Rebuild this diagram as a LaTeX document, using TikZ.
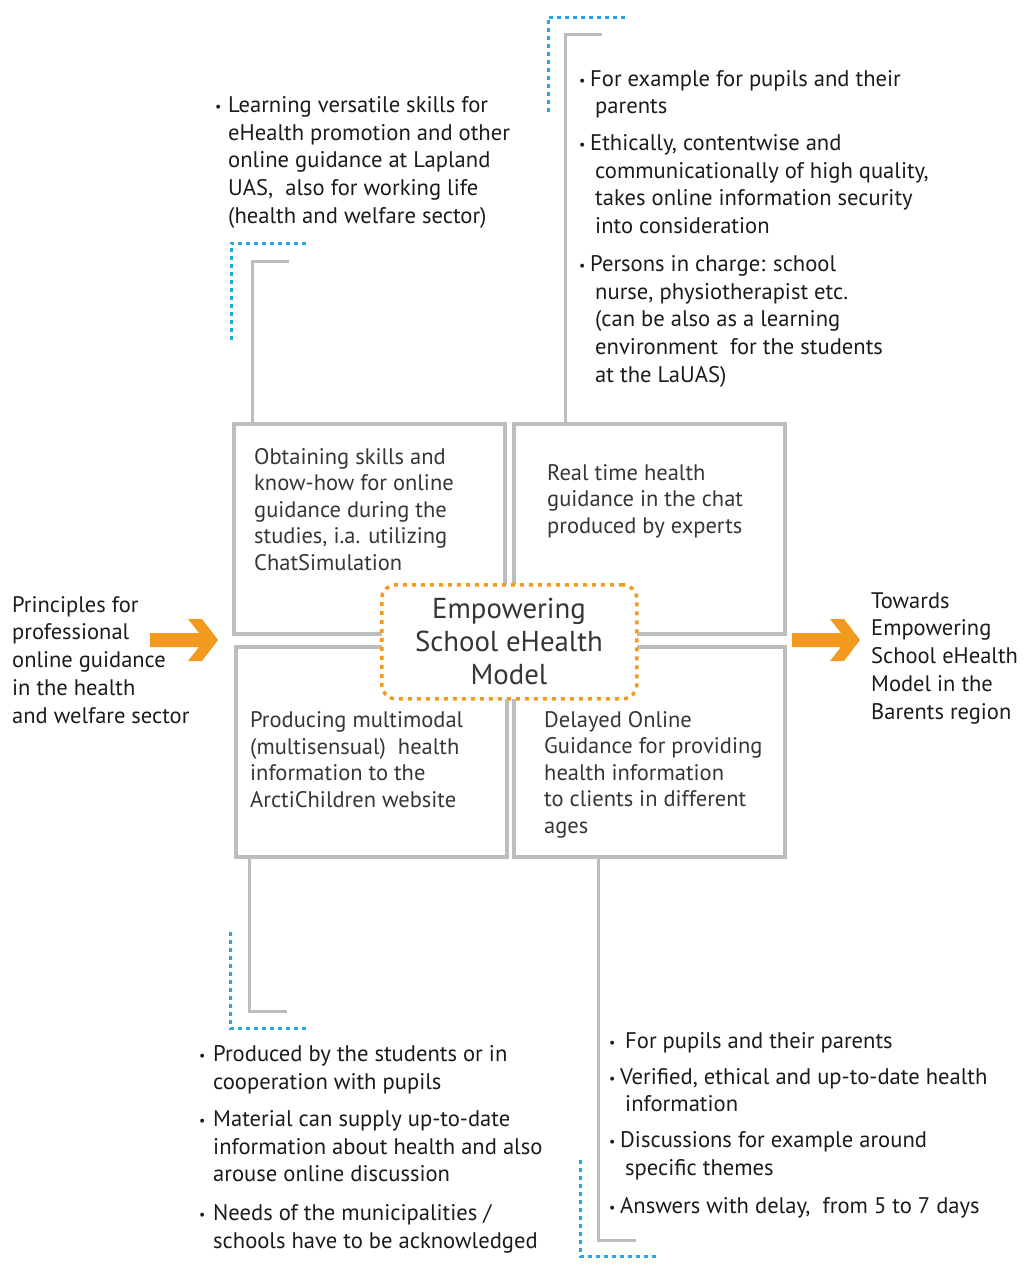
\documentclass[tikz,border=0pt]{standalone}
\usepackage{fontspec}
\setmainfont{PT Sans}
\definecolor{boxgray}{HTML}{BDBDBD}
\definecolor{dotblue}{HTML}{29A8E0}
\definecolor{orng}{HTML}{F39A1E}
\definecolor{txtc}{HTML}{1E1A1B}
\definecolor{boxtxtc}{HTML}{363636}
\newcommand{\sbul}{{\fontsize{14}{14}\selectfont\raisebox{1pt}{•}}}
\newcommand{\bulw}[1]{\makebox[#1][l]{\sbul}}
\begin{document}
\begin{tikzpicture}[x=1pt,y=-1pt,
  qbox/.style={draw=boxgray, line width=3.5pt, minimum width=271pt, minimum height=210pt, anchor=north west, inner sep=0pt},
  conn/.style={draw=boxgray, line width=3pt},
  bluedot/.style={draw=dotblue, line width=3pt, dash pattern=on 4pt off 4pt},
  bultxt/.style={font=\fontsize{22.6}{27.6}\selectfont, text=txtc, align=left, inner sep=0pt, anchor=base west},
  boxtxt/.style={font=\fontsize{22.5}{26.4}\selectfont, text=boxtxtc, align=left, inner sep=0pt, anchor=base west},
  sidetxt/.style={font=\fontsize{22.5}{27.7}\selectfont, text=txtc, align=left, inner sep=0pt, anchor=base west},
  center/.style={draw=orng, line width=3.5pt, dash pattern=on 4pt off 5pt, rounded corners=14pt, fill=white,
     minimum width=255pt, minimum height=114pt, anchor=north west, inner sep=0pt},
  arrowshape/.style={fill=orng}
]
\useasboundingbox (0,0) rectangle (1025,1266);

% quadrant boxes
\node[qbox] (tl) at (232,422) {};
\node[qbox] (tr) at (512,422) {};
\node[qbox] (bl) at (234,645) {};
\node[qbox] (br) at (512,645) {};

% centre
\node[center] (ctr) at (380,583) {};
\node[font=\fontsize{28.8}{33}\selectfont, text=boxtxtc, align=center, inner sep=0pt, anchor=base] (ctrt) at (509,684) {Empowering\\School eHealth\\Model};

% box texts (anchored at the baseline of the last line)
\node[boxtxt] (tlt) at (254,570) {Obtaining skills and\\know-how for online\\guidance during the\\studies, i.a. utilizing\\ChatSimulation};
\node[boxtxt] (trt) at (547,533) {Real time health\\guidance in the chat\\produced by experts};
\node[boxtxt] (blt) at (250,807) {Producing multimodal\\(multisensual)\ \ health\\information to the\\ArctiChildren website};
\node[boxtxt] (brt) at (544,833) {Delayed Online\\Guidance for providing\\health information\\to clients in different\\ages};

% side texts
\node[sidetxt] (left) at (12,723) {Principles for\\professional\\online guidance\\in the health\\and welfare sector};
\node[sidetxt] (right) at (871,719) {Towards\\Empowering\\School eHealth\\Model in the\\Barents region};

% orange arrows
\coordinate (la) at (150,640);
\coordinate (ra) at (792,640);
\foreach \c in {la,ra}{
\fill[arrowshape, shift={(\c)}] (0,-7) -- (49,-7) -- (38,-21) -- (52,-21) -- (68,0) -- (52,21) -- (38,21) -- (49,7) -- (0,7) -- cycle;
}

% bullet texts
\node[bultxt] (tlb) at (215,223) {\bulw{13pt}Learning versatile skills for\\
\hspace*{13pt}eHealth promotion and other\\
\hspace*{13pt}online guidance at Lapland\\
\hspace*{13pt}UAS,\ \ also for working life\\
\hspace*{13pt}(health and welfare sector)};

\node[bultxt] (trb) at (579,382) {\bulw{11pt}For example for pupils and their\\
\hspace*{16pt}parents\\[9.5pt]
\bulw{11pt}Ethically, contentwise and\\
\hspace*{16pt}communicationally of high quality,\\
\hspace*{16pt}takes online information security\\
\hspace*{16pt}into consideration\\[10.5pt]
\bulw{11pt}Persons in charge: school\\
\hspace*{16pt}nurse, physiotherapist etc.\\
\hspace*{16pt}(can be also as a learning\\
\hspace*{16pt}environment\ \ for the students\\
\hspace*{16pt}at the LaUAS)};

\node[bultxt] (blb) at (199,1248) {\bulw{14pt}Produced by the students or in\\
\hspace*{14pt}cooperation with pupils\\[9.5pt]
\bulw{14pt}Material can supply up-to-date\\
\hspace*{14pt}information about health and also\\
\hspace*{14pt}arouse online discussion\\[11pt]
\bulw{14pt}Needs of the municipalities /\\
\hspace*{14pt}schools have to be acknowledged};

\node[bultxt] (brb) at (609,1213) {\bulw{16pt}For pupils and their parents\\[8.5pt]
\bulw{11pt}Verified, ethical and up-to-date health\\
\hspace*{16pt}information\\[8.5pt]
\bulw{11pt}Discussions for example around\\
\hspace*{16pt}specific themes\\[10pt]
\bulw{11pt}Answers with delay,\ \ from 5 to 7 days};

% connectors from boxes to bullet lists
\coordinate (c1) at (252,261);
\coordinate (c2) at (565,34);
\coordinate (c3) at (249,1011);
\coordinate (c4) at (598,1240);
\draw[conn] (c1 |- tl.north) -- (c1) -- ++(37,0);
\draw[conn] (c2 |- tr.north) -- (c2) -- ++(37,0);
\draw[conn] (c3 |- bl.south) -- (c3) -- ++(38,0);
\draw[conn] (c4 |- br.south) -- (c4) -- ++(38,0);

% blue dotted brackets
\coordinate (b1) at (231,243);
\coordinate (b2) at (548,17);
\coordinate (b3) at (230,1028);
\coordinate (b4) at (580,1256);
\draw[bluedot] (b1) ++(0,97) -- (b1) -- ++(77,0);
\draw[bluedot] (b2) ++(0,95) -- (b2) -- ++(77,0);
\draw[bluedot] (b3) ++(0,-96) -- (b3) -- ++(77,0);
\draw[bluedot] (b4) ++(0,-96) -- (b4) -- ++(76,0);
\end{tikzpicture}
\end{document}
